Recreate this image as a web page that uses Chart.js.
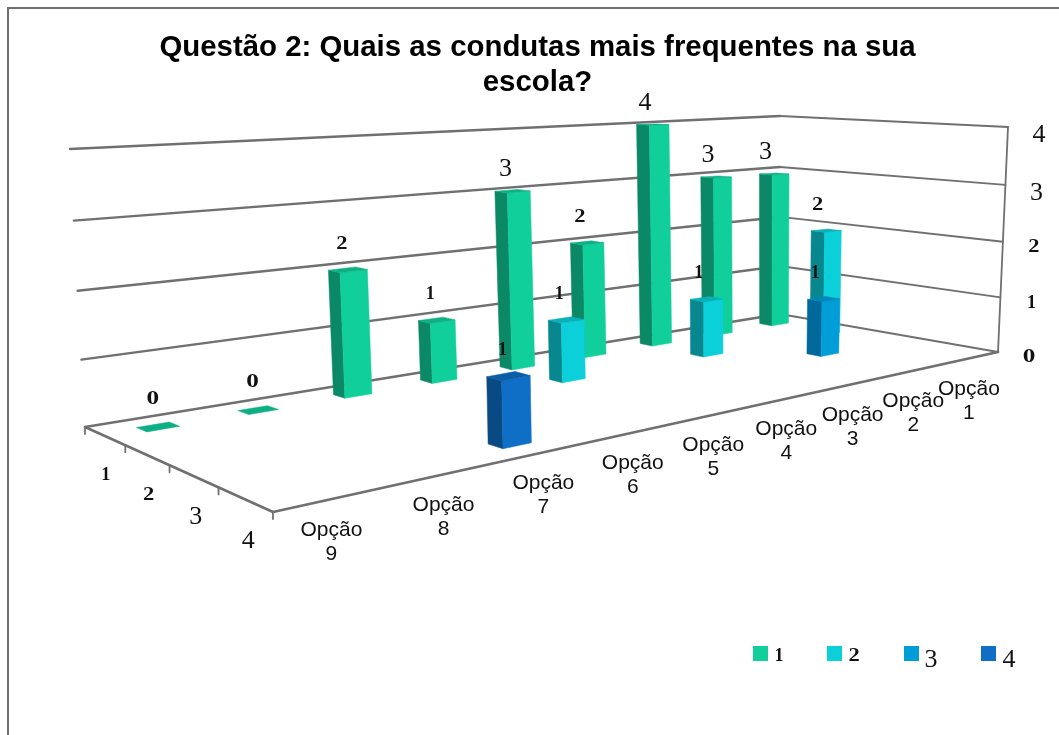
<!DOCTYPE html>
<html><head><meta charset="utf-8">
<style>html,body{margin:0;padding:0;background:#fff}canvas{display:block}</style>
<script src="https://cdn.jsdelivr.net/npm/chart.js@4"></script>
</head><body><canvas id="c" width="1059" height="735"></canvas>
<script>
const categories = ["Opção 9","Opção 8","Opção 7","Opção 6","Opção 5","Opção 4","Opção 3","Opção 2","Opção 1"];
const seriesNames = ["1","2","3","4"];
const series1 = [0,0,2,1,3,2,4,3,3];
const series2 = [null,null,null,null,1,null,1,null,2];
const series3 = [null,null,null,null,null,null,null,1,null];
const series4 = [null,null,1,null,null,null,null,null,null];
const valueTicks = [0,1,2,3,4];
const titleLines = ["Questão 2: Quais as condutas mais frequentes na sua","escola?"];
const seriesColors = ["#10CF9B","#0BD0D9","#009DD9","#0F6FC6"];
const sideColors = ["#0B8866","#08878F","#00689A","#0A4A84"];
const topColors = ["#0EAF84","#0AB0B8","#0086B8","#0D5CA6"];

/* camera: floor quad and wall-height vectors */
const Q = {A:[85,427],D:[780,314],C:[998,352],B:[273,512]};
const V = {A:[-15,-278],D:[0,-198],C:[10,-225],B:[-10,-312]};
const cam = (function(){
  const [x0,y0]=Q.A,[x1,y1]=Q.D,[x2,y2]=Q.C,[x3,y3]=Q.B;
  const dx1=x1-x2,dx2=x3-x2,sx=x0-x1+x2-x3,dy1=y1-y2,dy2=y3-y2,sy=y0-y1+y2-y3;
  const den=dx1*dy2-dx2*dy1, g=(sx*dy2-dx2*sy)/den, h=(dx1*sy-sx*dy1)/den;
  return {a:x1-x0+g*x1,b:x3-x0+h*x3,c:x0,d:y1-y0+g*y1,e:y3-y0+h*y3,f:y0,g,h};
})();
function project(u,w,z){
  const n=cam.g*u+cam.h*w+1;
  const fx=(cam.a*u+cam.b*w+cam.c)/n, fy=(cam.d*u+cam.e*w+cam.f)/n;
  const zz=z-0.04*z*(1-z);
  const mix=i=>(1-u)*((1-w)*V.A[i]+w*V.B[i])+u*((1-w)*V.D[i]+w*V.C[i]);
  return [fx+zz*mix(0),fy+zz*mix(1)];
}
const uOf=(chart,i)=>{const s=chart.scales.x;return (s.getPixelForValue(i)-s.left)/s.width;};
const wOf=(chart,k)=>{const s=chart.scales.z;return (s.getPixelForValue(k)-s.left)/s.width;};
const hOf=(chart,v)=>{const s=chart.scales.y;return (s.bottom-s.getPixelForValue(v))/s.height;};
const barU=u=>u-0.007*Math.min(1,u/0.15);
const BAR_H=0.975;

function digit(ctx,t,cx,cy){
  const big=t==='3'||t==='4';
  const size=big?26:18;
  const stretch={'0':1.4,'1':1,'2':1.25}[t]||1;
  ctx.save();
  ctx.fillStyle='#111';
  ctx.font=(big?'':'bold ')+size+'px "Liberation Serif"';
  ctx.textAlign='center';ctx.textBaseline='alphabetic';
  ctx.translate(cx,cy+size*0.338);
  ctx.scale(stretch,1);
  ctx.fillText(t,0,0);
  ctx.restore();
}
function poly(ctx,pts,fill){
  ctx.beginPath();pts.forEach((p,i)=>i?ctx.lineTo(p[0],p[1]):ctx.moveTo(p[0],p[1]));ctx.closePath();
  ctx.fillStyle=fill;ctx.fill();ctx.strokeStyle=fill;ctx.lineWidth=0.5;ctx.stroke();
}
const BAND_U=0.30/categories.length/2, BAND_W=0.25/seriesNames.length/2;

class Bar3D extends Chart.BarController{
  draw(){
    const chart=this.chart,ctx=chart.ctx,k=this.index,data=this.getDataset().data;
    const w=wOf(chart,k);
    data.forEach((v,i)=>{
      if(v===null)return;
      const u=barU(uOf(chart,i)),h=hOf(chart,v)*BAR_H;
      const u0=u-BAND_U,u1=u+BAND_U,w0=w-BAND_W,w1=w+BAND_W;
      if(h>0){
        poly(ctx,[project(u0,w0,0),project(u0,w1,0),project(u0,w1,h),project(u0,w0,h)],sideColors[k]);
        poly(ctx,[project(u0,w1,0),project(u1,w1,0),project(u1,w1,h),project(u0,w1,h)],seriesColors[k]);
      }
      poly(ctx,[project(u0,w0,h),project(u1,w0,h),project(u1,w1,h),project(u0,w1,h)],topColors[k]);
    });
  }
}
Bar3D.id='bar3d';
Bar3D.defaults=Chart.BarController.defaults;
Chart.register(Bar3D);

const scene={
  id:'scene',
  beforeDraw(chart){
    const ctx=chart.ctx;
    ctx.save();
    ctx.fillStyle='#fff';ctx.fillRect(0,0,chart.width,chart.height);
    ctx.strokeStyle='#6e6e6e';ctx.lineWidth=2;
    ctx.beginPath();ctx.moveTo(8,735);ctx.lineTo(8,8);ctx.lineTo(1059,8);ctx.stroke();
    ctx.restore();
  },
  beforeDatasetsDraw(chart){
    const ctx=chart.ctx;
    ctx.save();ctx.strokeStyle='#707070';ctx.lineCap='round';ctx.lineJoin='round';
    const line=(pts,lw)=>{ctx.lineWidth=lw;ctx.beginPath();pts.forEach((p,i)=>i?ctx.lineTo(p[0],p[1]):ctx.moveTo(p[0],p[1]));ctx.stroke();};
    valueTicks.forEach(t=>{
      const h=hOf(chart,t);
      line([project(0,0,h),project(1,0,h)],2.4);
      line([project(1,0,h),project(1,1,h)],1.8);
    });
    line([project(1,1,0),project(1,1,1)],1.8);
    line([project(0,0,0),project(0,1,0)],2.6);
    line([project(0,1,0),project(1,1,0)],2.8);
    for(let k=0;k<=seriesNames.length;k++){
      const p=project(0,k/seriesNames.length,0);
      line([p,[p[0],p[1]+7]],1.8);
    }
    ctx.restore();
    valueTicks.forEach(t=>{
      const p=project(1,1,hOf(chart,t));
      digit(ctx,String(t),p[0]+31,p[1]+(t>=3?6:4));
    });
    seriesNames.forEach((s,k)=>{
      const p=project(0,wOf(chart,k),0);
      digit(ctx,s,p[0]+1+k*0.7,p[1]+38.5+k*0.5);
    });
    ctx.save();
    ctx.fillStyle='#111';ctx.font='21px "Liberation Sans"';ctx.textAlign='center';ctx.textBaseline='middle';
    categories.forEach((c,i)=>{
      const p=project(uOf(chart,i),1,0);
      const parts=c.split(' ');
      ctx.fillText(parts[0],p[0]-3,p[1]+31.5);
      ctx.fillText(parts[1],p[0]-3,p[1]+55.5);
    });
    ctx.restore();
  },
  afterDatasetsDraw(chart){
    const ctx=chart.ctx;
    chart.data.datasets.forEach((ds,k)=>{
      ds.data.forEach((v,i)=>{
        if(v===null)return;
        const u=barU(uOf(chart,i));
        const p=project(u,wOf(chart,k),hOf(chart,v)*BAR_H);
        digit(ctx,String(v),p[0]-5-4*u,p[1]-27+(v>=3?3.5:(v===0?-2:0)));
      });
    });
    const sw=[753,827,904,981],tx=[779,854,931,1009],ty=[655,655,658,658];
    seriesNames.forEach((s,k)=>{
      ctx.fillStyle=seriesColors[k];ctx.fillRect(sw[k],646,15,15);
      digit(ctx,s,tx[k],ty[k]);
    });
  }
};

new Chart(document.getElementById('c').getContext('2d'),{
  type:'bar3d',
  data:{labels:categories,datasets:[
    {label:seriesNames[0],data:series1,order:4,clip:false,backgroundColor:seriesColors[0]},
    {label:seriesNames[1],data:series2,order:3,clip:false,backgroundColor:seriesColors[1]},
    {label:seriesNames[2],data:series3,order:2,clip:false,backgroundColor:seriesColors[2]},
    {label:seriesNames[3],data:series4,order:1,clip:false,backgroundColor:seriesColors[3]}
  ]},
  plugins:[scene],
  options:{
    responsive:false,animation:false,devicePixelRatio:1,events:[],
    layout:{padding:{left:16}},
    scales:{
      x:{type:'category',labels:categories,offset:true,display:false},
      y:{type:'linear',min:0,max:4,display:false},
      z:{type:'category',axis:'x',labels:seriesNames,offset:true,display:false}
    },
    plugins:{
      legend:{display:false},tooltip:{enabled:false},
      title:{display:true,text:titleLines,color:'#000',
        font:{family:'"Liberation Sans"',size:29.4,weight:'bold',lineHeight:1.2},
        padding:{top:30,bottom:10}}
    }
  }
});
</script></body></html>
